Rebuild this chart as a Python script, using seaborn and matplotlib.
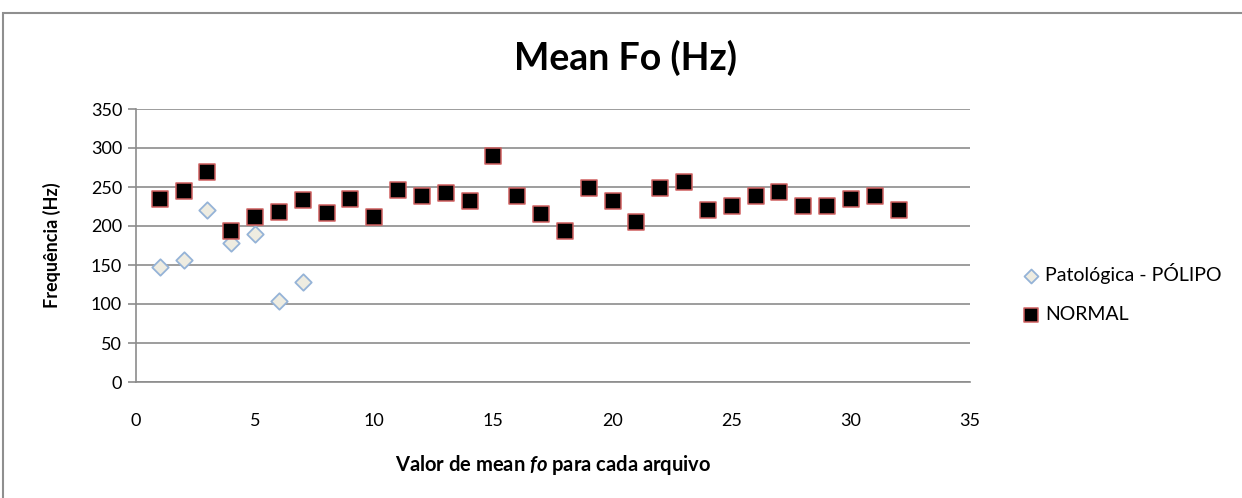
import matplotlib
matplotlib.use("Agg")
import matplotlib.pyplot as plt
from matplotlib.patches import Rectangle
import pandas as pd
import seaborn as sns

# Mean fundamental frequency per recording
polipo_idx = [1, 2, 3, 4, 5, 6, 7]
polipo_hz = [148, 156, 220, 178, 190, 104, 128]

normal_idx = list(range(1, 33))
normal_hz = [235, 245, 269, 194, 211, 218, 233, 217, 235, 211,
             246, 239, 242, 232, 290, 238, 216, 194, 249, 232,
             205, 249, 256, 221, 226, 238, 244, 226, 225, 234,
             238, 220]

labels = ["Patológica - PÓLIPO", "NORMAL"]
x_ticks = [0, 5, 10, 15, 20, 25, 30, 35]
y_ticks = [0, 50, 100, 150, 200, 250, 300, 350]

df_pol = pd.DataFrame({"arquivo": polipo_idx, "fo": polipo_hz})
df_nor = pd.DataFrame({"arquivo": normal_idx, "fo": normal_hz})

sns.set_theme(style="white")
plt.rcParams["font.family"] = ["Lato", "DejaVu Sans"]
plt.rcParams["text.color"] = "black"
plt.rcParams["xtick.labelcolor"] = "black"
plt.rcParams["ytick.labelcolor"] = "black"
plt.rcParams["axes.labelcolor"] = "black"
plt.rcParams["mathtext.fontset"] = "custom"
plt.rcParams["mathtext.bfit"] = "Lato:bold:italic"
plt.rcParams["mathtext.it"] = "Lato:bold:italic"

W, H = 1242, 498
fig = plt.figure(figsize=(W / 100, H / 100), dpi=100)
ax = fig.add_axes([136 / W, 1 - 382 / H, (970 - 136) / W, (382 - 109) / H])

grid_c = "#8c8c8c"
sns.scatterplot(data=df_pol, x="arquivo", y="fo", ax=ax, marker="D", s=70,
                color="#eeece1", edgecolor="#95b3d7", linewidth=1.3,
                label=labels[0], zorder=3)
sns.scatterplot(data=df_nor, x="arquivo", y="fo", ax=ax, marker="s", s=135,
                color="#000000", edgecolor="#d06060", linewidth=1.1,
                label=labels[1], zorder=4)

ax.set_xlim(0, 35)
ax.set_ylim(0, 350)
ax.set_xticks(x_ticks)
ax.set_yticks(y_ticks)
ax.set_xticklabels([str(v) for v in x_ticks])
ax.set_yticklabels([str(v) for v in y_ticks])
ax.yaxis.grid(True, color=grid_c, linewidth=1.2)
ax.xaxis.grid(False)
ax.set_axisbelow(True)
for side in ["top", "right"]:
    ax.spines[side].set_visible(False)
for side in ["left", "bottom"]:
    ax.spines[side].set_color(grid_c)
    ax.spines[side].set_linewidth(1.2)
ax.tick_params(axis="y", which="major", length=6, color=grid_c, width=1.2,
               labelsize=13, pad=4, left=True)
ax.tick_params(axis="x", which="major", length=0, labelsize=13, pad=22)

ax.set_xlabel("")
ax.set_ylabel("")
fig.text(52 / W, 1 - 245 / H, "Frequência (Hz)", rotation=90,
         ha="center", va="center", fontsize=13, fontweight="bold")
fig.text(553 / W, 1 - 465 / H,
         r"Valor de mean $\mathit{fo}$ para cada arquivo",
         ha="center", va="center", fontsize=14.5, fontweight="bold")

fig.text(626 / W, 1 - 58 / H, "Mean Fo (Hz)", ha="center", va="center",
         fontsize=27, fontweight="bold")

ax.legend(loc="center left", bbox_to_anchor=(1012 / W, 1 - 293 / H),
          bbox_transform=fig.transFigure, frameon=False,
          fontsize=14, handletextpad=0.1, labelspacing=1.1,
          borderaxespad=0, markerscale=0.85, handlelength=1.2)

# chart frame
fig.patches.append(Rectangle((3 / W, -0.2), 1.2, 0.2 + (1 - 13 / H),
                             transform=fig.transFigure, fill=False,
                             edgecolor="#8f8f8f", linewidth=1.5))

fig.savefig("out.png", dpi=100)
